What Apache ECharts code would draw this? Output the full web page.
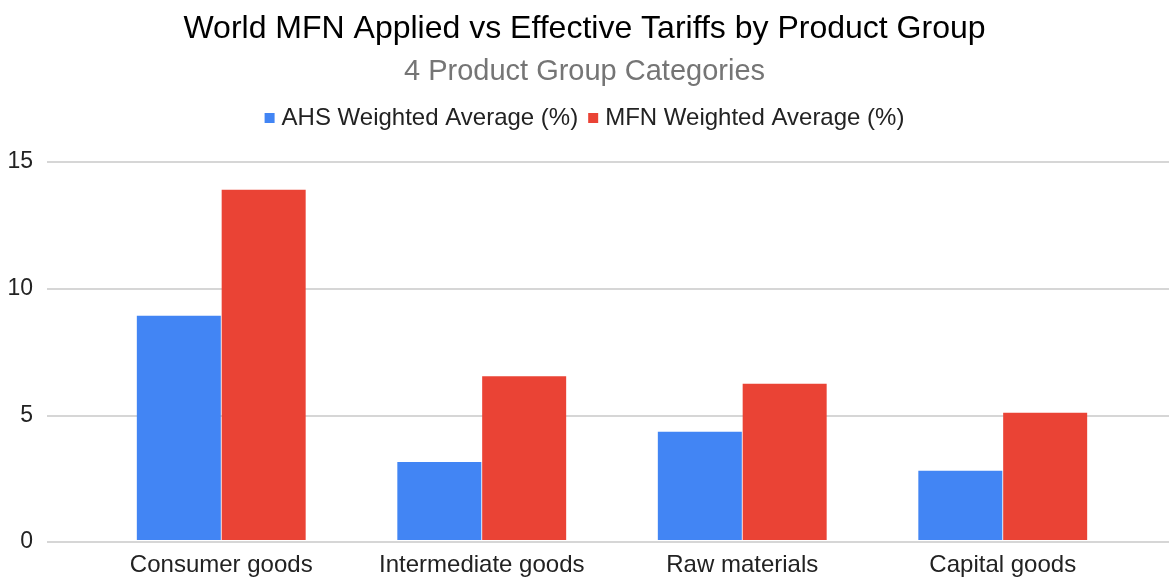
<!DOCTYPE html>
<html>
<head>
<meta charset="utf-8">
<script src="https://cdn.jsdelivr.net/npm/echarts@6/dist/echarts.min.js"></script>
<style>
  html, body { margin: 0; padding: 0; background: #fff; }
  #chart { width: 1169px; height: 577px; }
</style>
</head>
<body>
<div id="chart"></div>
<script>
const categories = ['Consumer goods', 'Intermediate goods', 'Raw materials', 'Capital goods']
const ahsValues = [8.9, 3.1, 4.3, 2.75]
const mfnValues = [13.9, 6.5, 6.2, 5.05]
const yTicks = [0, 5, 10, 15]

const font = 'Arial, "Liberation Sans", sans-serif'
const chart = echarts.init(document.getElementById('chart'))

chart.setOption({
  animation: false,
  textStyle: { fontFamily: font },
  title: {
    text: 'World MFN Applied vs Effective Tariffs by Product Group',
    subtext: '4 Product Group Categories',
    left: 'center',
    top: 8,
    itemGap: 12,
    textStyle: { fontSize: 32, fontWeight: 'normal', color: '#000', fontFamily: font },
    subtextStyle: { fontSize: 29, color: '#757575', fontFamily: font }
  },
  legend: {
    top: 101,
    left: 'center',
    itemWidth: 10,
    itemHeight: 10,
    itemGap: 10,
    icon: 'rect',
    textStyle: { fontSize: 24, color: '#222', fontFamily: font, padding: [0, 0, 0, 2] },
    data: ['AHS Weighted Average (%)', 'MFN Weighted Average (%)']
  },
  grid: [
    // background grid for gridlines and y labels
    { left: 47, right: 0, top: 162, bottom: 35 },
    // bars
    { left: 91, right: 36, top: 162, bottom: 35 }
  ],
  xAxis: [
    { type: 'value', gridIndex: 0, show: false, min: 0, max: 1 },
    {
      type: 'category',
      gridIndex: 1,
      data: categories,
      axisLine: { show: false },
      axisTick: { show: false },
      axisLabel: { interval: 0, fontSize: 24, color: '#222', margin: 13, fontFamily: font }
    }
  ],
  yAxis: [
    {
      type: 'value',
      gridIndex: 0,
      min: yTicks[0],
      max: yTicks[yTicks.length - 1],
      interval: 5,
      axisLine: { show: false },
      axisTick: { show: false },
      axisLabel: { fontSize: 23, color: '#222', margin: 14, fontFamily: font },
      splitLine: { lineStyle: { color: '#c8c8c8', width: 1.5 } }
    },
    {
      type: 'value',
      gridIndex: 1,
      min: yTicks[0],
      max: yTicks[yTicks.length - 1],
      show: false,
      splitLine: { show: false }
    }
  ],
  series: [
    {
      name: 'AHS Weighted Average (%)',
      type: 'bar',
      xAxisIndex: 1,
      yAxisIndex: 1,
      data: ahsValues,
      barWidth: 84,
      barGap: '1%',
      itemStyle: { color: '#4285F4' }
    },
    {
      name: 'MFN Weighted Average (%)',
      type: 'bar',
      xAxisIndex: 1,
      yAxisIndex: 1,
      data: mfnValues,
      barWidth: 84,
      barGap: '1%',
      itemStyle: { color: '#EA4335' }
    }
  ]
})
</script>
</body>
</html>
